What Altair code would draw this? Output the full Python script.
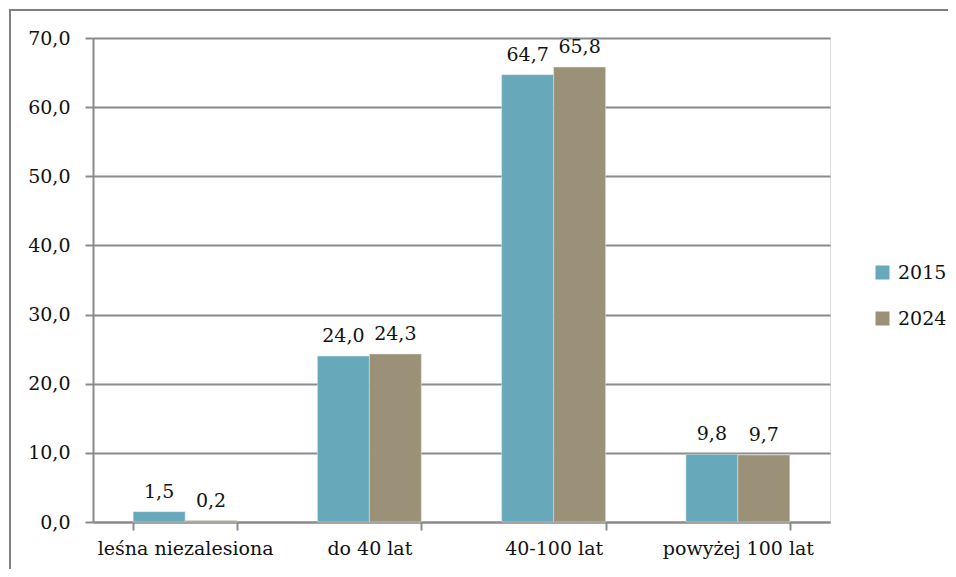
import altair as alt
import pandas as pd

categories = ["leśna niezalesiona", "do 40 lat", "40-100 lat", "powyżej 100 lat"]
years = ["2015", "2024"]
v2015 = [1.5, 24.0, 64.7, 9.8]
v2024 = [0.2, 24.3, 65.8, 9.7]
y_ticks = [0, 10, 20, 30, 40, 50, 60, 70]

rows = []
for c, a, b in zip(categories, v2015, v2024):
    rows.append({"kat": c, "rok": years[0], "val": a})
    rows.append({"kat": c, "rok": years[1], "val": b})
df = pd.DataFrame(rows)

FONT = "DejaVu Serif"
FS = 19
GRAY = "#8a8a8a"
colors = ["#67a9ba", "#9a9178"]

base = alt.Chart(df)

x_enc = alt.X("kat:N", sort=categories, title=None,
              scale=alt.Scale(paddingInner=0.436, paddingOuter=0.218),
              axis=alt.Axis(labelAngle=0, tickBand="extent", domainColor=GRAY,
                            domainWidth=2, tickColor=GRAY, tickWidth=2, tickSize=8,
                            labelPadding=9, labelFontSize=FS, labelFont=FONT, labelLimit=0,
                            labelColor="#111111", grid=False))
xoff = alt.XOffset("rok:N", sort=years, scale=alt.Scale(paddingInner=0, paddingOuter=0))
y_enc = alt.Y("val:Q", title=None,
              scale=alt.Scale(domain=[0, 70], nice=False),
              axis=alt.Axis(values=y_ticks, labelExpr="replace(format(datum.value, '.1f'), '.', ',')",
                            grid=True, gridColor=GRAY, gridWidth=2, domainColor=GRAY,
                            domainWidth=2, tickColor=GRAY, tickWidth=2, tickSize=8,
                            labelPadding=15, labelFontSize=FS, labelFont=FONT,
                            labelColor="#111111"))

bars = base.mark_bar(stroke="#e8e8e0", strokeWidth=0.5).encode(
    x=x_enc, xOffset=xoff, y=y_enc,
    color=alt.Color("rok:N", sort=years, scale=alt.Scale(domain=years, range=colors),
                    legend=alt.Legend(title=None, orient="none", legendX=780, legendY=225,
                                      symbolType="square", symbolSize=196,
                                      symbolStrokeWidth=0, rowPadding=26, labelOffset=6,
                                      labelFontSize=FS, labelFont=FONT, labelColor="#111111")),
)

labels = base.transform_calculate(
    lab="replace(format(datum.val, '.1f'), '.', ',')"
).mark_text(font=FONT, fontSize=FS, color="#111111", baseline="alphabetic", dy=-14).encode(
    x=alt.X("kat:N", sort=categories), xOffset=xoff, y="val:Q", text="lab:N"
)

border = alt.Chart(pd.DataFrame({"k": [0]})).mark_rect(
    fill=None, stroke="#808080", strokeWidth=2
).encode(
    x=alt.value(-83), x2=alt.value(950), y=alt.value(-28), y2=alt.value(600)
)

chart = alt.layer(bars, labels, border).properties(
    width=737, height=484,
    autosize=alt.AutoSizeParams(type="none"),
    padding={"left": 85, "top": 30, "right": 118, "bottom": 47},
).configure_view(stroke=None).configure(background="white")

chart.save("out.html", embed_options={"renderer": "svg", "actions": False})
